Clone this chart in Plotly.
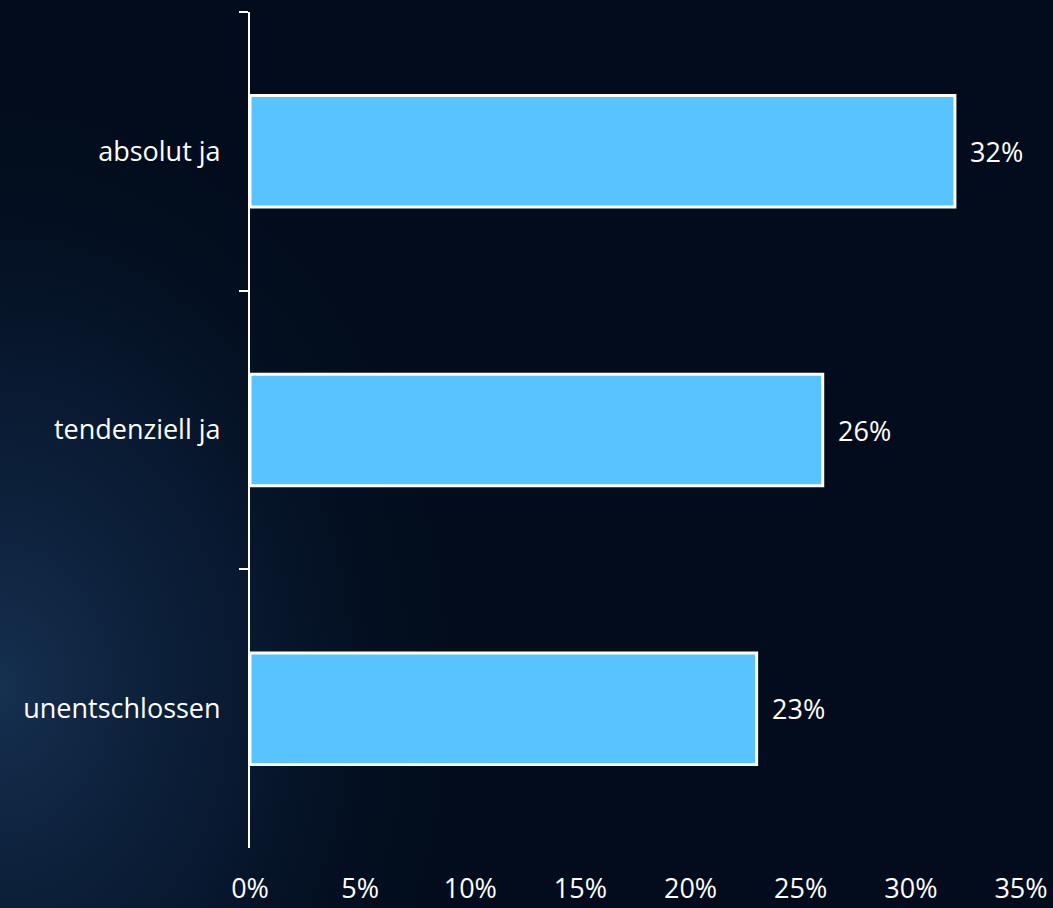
import plotly.graph_objects as go

# Survey answers and their shares (percent)
categories = ["absolut ja", "tendenziell ja", "unentschlossen"]
values = [32, 26, 23]
x_ticks = [0, 5, 10, 15, 20, 25, 30, 35]
x_tick_text = ["0%", "5%", "10%", "15%", "20%", "25%", "30%", "35%"]

W, H = 1053, 908
BG = "#020c1c"
BAR = "#57c4ff"
FONT = "Open Sans, Lato, sans-serif"
FS = 27

fig = go.Figure()

# Soft bluish glow along the lower-left part of the page
fig.add_trace(go.Scatter(
    x=[-500, 500, 500, -500, -500],
    y=[-420, -420, 860, 860, -420],
    mode="lines",
    line=dict(width=0),
    fill="toself",
    fillgradient=dict(
        type="radial",
        colorscale=[[0, "rgba(35,72,115,0.60)"],
                    [0.5, "rgba(20,48,85,0.35)"],
                    [1, "rgba(2,12,28,0)"]],
    ),
    hoverinfo="skip",
    showlegend=False,
    xaxis="x", yaxis="y",
))

# Horizontal bars
fig.add_trace(go.Bar(
    x=values,
    y=categories,
    orientation="h",
    width=0.4,
    marker=dict(color=BAR, line=dict(color="white", width=3)),
    hoverinfo="skip",
    showlegend=False,
    xaxis="x2", yaxis="y2",
))

# Value labels to the right of each bar
for c, v in zip(categories, values):
    fig.add_annotation(
        x=v, y=c, xref="x2", yref="y2",
        text=f"{v}%", showarrow=False,
        xanchor="left", yanchor="middle", xshift=13,
        font=dict(family=FONT, size=FS, color="white"),
    )

x0, x1 = 250 / W, 1021 / W
y0, y1 = (H - 848) / H, (H - 12) / H

fig.update_layout(
    width=W, height=H,
    margin=dict(l=0, r=0, t=0, b=0, autoexpand=False),
    paper_bgcolor=BG,
    plot_bgcolor="rgba(0,0,0,0)",
    font=dict(family=FONT, size=FS, color="white"),
    xaxis=dict(domain=[0, 1], range=[0, W], visible=False, fixedrange=True),
    yaxis=dict(domain=[0, 1], range=[0, H], visible=False, fixedrange=True),
    xaxis2=dict(
        domain=[x0, x1], anchor="y2", automargin=False,
        range=[0, 35], tickvals=x_ticks, ticktext=x_tick_text,
        showgrid=False, zeroline=False, showline=False, ticks="",
        ticklabelstandoff=22,
        tickfont=dict(family=FONT, size=FS, color="white"),
    ),
    yaxis2=dict(
        domain=[y0, y1], anchor="x2", automargin=False,
        categoryorder="array", categoryarray=categories,
        autorange="reversed",
        showgrid=False, zeroline=False,
        showline=True, linecolor="white", linewidth=2,
        ticks="outside", tickson="boundaries", ticklen=9,
        tickcolor="white", tickwidth=2,
        ticklabelstandoff=22,
        tickfont=dict(family=FONT, size=FS, color="white"),
    ),
)

fig.write_html("out.html")
